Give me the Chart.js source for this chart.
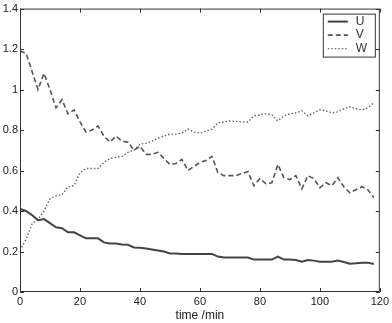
<!DOCTYPE html>
<html>
<head>
<meta charset="utf-8">
<script src="https://cdn.jsdelivr.net/npm/chart.js@4.4.0/dist/chart.umd.min.js"></script>
<style>
  html, body { margin: 0; padding: 0; background: #fff; }
  #wrap { width: 392px; height: 323px; }
</style>
</head>
<body>
<div id="wrap"><canvas id="grafico"></canvas></div>
<script>
// time in minutes, sampled every 2 min
const tiempos = [0,2,4,6,8,10,12,14,16,18,20,22,24,26,28,30,32,34,36,38,40,42,44,46,48,50,52,54,56,58,
  60,62,64,66,68,70,72,74,76,78,80,82,84,86,88,90,92,94,96,98,100,102,104,106,108,110,112,114,116,118];

const serieU = [0.41,0.40,0.38,0.355,0.36,0.34,0.32,0.315,0.295,0.295,0.28,0.265,0.265,0.265,0.245,0.24,0.24,0.235,0.233,0.22,
  0.218,0.215,0.21,0.205,0.2,0.19,0.19,0.188,0.188,0.188,0.188,0.188,0.188,0.175,0.17,0.17,0.17,0.17,0.17,0.16,
  0.16,0.16,0.16,0.175,0.16,0.16,0.158,0.15,0.158,0.155,0.15,0.15,0.15,0.155,0.148,0.14,0.142,0.145,0.145,0.138];

const serieV = [1.19,1.18,1.09,1.0,1.08,1.0,0.91,0.95,0.88,0.90,0.84,0.79,0.80,0.82,0.77,0.74,0.77,0.745,0.74,0.70,
  0.72,0.68,0.68,0.69,0.66,0.63,0.635,0.655,0.60,0.62,0.64,0.65,0.67,0.59,0.575,0.575,0.575,0.585,0.595,0.525,
  0.56,0.535,0.54,0.63,0.565,0.555,0.575,0.51,0.575,0.56,0.515,0.54,0.525,0.565,0.52,0.49,0.505,0.52,0.505,0.467];

const serieW = [0.205,0.26,0.335,0.36,0.40,0.46,0.475,0.48,0.52,0.525,0.59,0.61,0.61,0.61,0.64,0.66,0.665,0.67,0.69,0.70,
  0.73,0.735,0.745,0.76,0.77,0.78,0.78,0.785,0.805,0.79,0.785,0.795,0.805,0.835,0.84,0.845,0.843,0.84,0.84,0.87,
  0.875,0.88,0.875,0.845,0.87,0.88,0.885,0.895,0.87,0.885,0.90,0.895,0.885,0.89,0.905,0.915,0.905,0.90,0.91,0.935];

const ticksX = [0, 20, 40, 60, 80, 100, 120];
const ticksY = [0, 0.2, 0.4, 0.6, 0.8, 1, 1.2, 1.4];
const nombres = ['U', 'V', 'W'];

const puntos = (vals) => tiempos.map((t, i) => ({ x: t, y: vals[i] }));
const fuente = { family: 'Liberation Sans, Arial, sans-serif', size: 11 };

// MATLAB-like box: frame, inward ticks on all four sides, legend box
const marco = {
  id: 'marco',
  afterDatasetsDraw(chart) {
    const ctx = chart.ctx;
    const a = chart.chartArea;
    const sx = chart.scales.x, sy = chart.scales.y;
    ctx.save();
    ctx.strokeStyle = '#333';
    ctx.lineWidth = 1;
    ctx.setLineDash([]);
    ctx.strokeRect(a.left + 0.5, a.top + 0.5, a.right - a.left - 1, a.bottom - a.top - 1);
    ctx.beginPath();
    ticksX.forEach(v => {
      const px = Math.round(sx.getPixelForValue(v)) + 0.5;
      ctx.moveTo(px, a.bottom); ctx.lineTo(px, a.bottom - 4);
      ctx.moveTo(px, a.top); ctx.lineTo(px, a.top + 4);
    });
    ticksY.forEach(v => {
      const py = Math.round(sy.getPixelForValue(v)) + 0.5;
      ctx.moveTo(a.left, py); ctx.lineTo(a.left + 4, py);
      ctx.moveTo(a.right, py); ctx.lineTo(a.right - 4, py);
    });
    ctx.stroke();

    // legend
    const lx = a.right - 57, ly = a.top + 5, lw = 52, lh = 43;
    ctx.fillStyle = '#fff';
    ctx.fillRect(lx, ly, lw, lh);
    ctx.strokeStyle = '#333';
    ctx.strokeRect(lx + 0.5, ly + 0.5, lw, lh);
    ctx.font = '12px ' + fuente.family;
    ctx.textBaseline = 'middle';
    chart.data.datasets.forEach((ds, i) => {
      const yy = ly + 8 + i * 13.5;
      ctx.beginPath();
      ctx.strokeStyle = ds.borderColor;
      ctx.lineWidth = ds.borderWidth;
      ctx.setLineDash(ds.borderDash || []);
      ctx.moveTo(lx + 5, yy); ctx.lineTo(lx + 25, yy);
      ctx.stroke();
      ctx.setLineDash([]);
      ctx.fillStyle = '#333';
      ctx.fillText(nombres[i], lx + 33, yy);
    });
    ctx.restore();
  }
};

new Chart(document.getElementById('grafico'), {
  type: 'line',
  data: {
    datasets: [{
      label: nombres[0],
      data: puntos(serieU),
      borderColor: '#444',
      borderWidth: 2,
      pointRadius: 0,
      tension: 0
    }, {
      label: nombres[1],
      data: puntos(serieV),
      borderColor: '#555',
      borderWidth: 1.6,
      borderDash: [5, 3],
      pointRadius: 0,
      tension: 0
    }, {
      label: nombres[2],
      data: puntos(serieW),
      borderColor: '#666',
      borderWidth: 1.4,
      borderDash: [1.5, 2],
      pointRadius: 0,
      tension: 0
    }]
  },
  options: {
    responsive: true,
    maintainAspectRatio: false,
    animation: false,
    layout: { padding: { top: 7, right: 10, left: 0, bottom: 0 } },
    plugins: { legend: { display: false }, tooltip: { enabled: false } },
    scales: {
      x: {
        type: 'linear',
        min: 0, max: 120,
        afterFit: (s) => { s.height = 31; },
        afterBuildTicks: (s) => { s.ticks = ticksX.map(v => ({ value: v })); },
        grid: { display: false, drawTicks: false },
        border: { display: false },
        ticks: { font: fuente, color: '#222', padding: 3, maxRotation: 0, callback: (v) => String(v) },
        title: { display: true, text: 'time /min', font: { family: fuente.family, size: 12 }, color: '#222', padding: { top: 0, bottom: 0 } }
      },
      y: {
        min: 0, max: 1.4,
        afterFit: (s) => { s.width = 20; },
        afterBuildTicks: (s) => { s.ticks = ticksY.map(v => ({ value: v })); },
        grid: { display: false, drawTicks: false },
        border: { display: false },
        ticks: { font: fuente, color: '#222', padding: 2, callback: (v) => String(Math.round(v * 10) / 10) }
      }
    }
  },
  plugins: [marco]
});
</script>
</body>
</html>
